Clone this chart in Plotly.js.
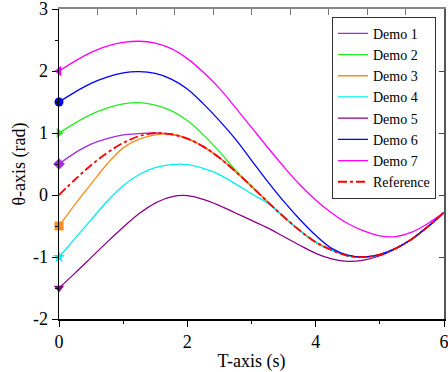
<!DOCTYPE html>
<html>
<head>
<meta charset="utf-8">
<script src="https://cdn.plot.ly/plotly-3.0.1.min.js"></script>
<style>
html,body{margin:0;padding:0;background:#fff;}
#chart{width:448px;height:372px;}
</style>
</head>
<body>
<div id="chart"></div>
<script>
// time samples (s)
var t = [0,0.25,0.5,0.75,1.0,1.25,1.5,1.75,2.0,2.25,2.5,2.75,3.0,3.25,3.5,3.75,4.0,4.25,4.5,4.75,5.0,5.25,5.5,5.75,6.0];

var reference = [0,0.25,0.48,0.68,0.84,0.95,1.0,0.98,0.91,0.78,0.6,0.38,0.14,-0.11,-0.35,-0.57,-0.76,-0.89,-0.98,-1.0,-0.96,-0.86,-0.71,-0.51,-0.28];
var demo1 = [0.5,0.68,0.82,0.91,0.97,0.99,1.0,0.98,0.91,0.78,0.6,0.38,0.14,-0.11,-0.35,-0.57,-0.76,-0.89,-0.98,-1.0,-0.96,-0.86,-0.71,-0.51,-0.28];
var demo2 = [1.0,1.16,1.3,1.4,1.47,1.49,1.45,1.36,1.2,0.97,0.7,0.4,0.14,-0.11,-0.35,-0.57,-0.76,-0.89,-0.98,-1.0,-0.96,-0.86,-0.71,-0.51,-0.28];
var demo3 = [-0.5,-0.15,0.18,0.5,0.76,0.9,0.97,0.98,0.91,0.78,0.6,0.38,0.14,-0.11,-0.35,-0.57,-0.76,-0.89,-0.98,-1.0,-0.96,-0.86,-0.71,-0.51,-0.28];
var demo4 = [-1.0,-0.7,-0.4,-0.1,0.15,0.33,0.44,0.49,0.49,0.43,0.33,0.18,0.02,-0.13,-0.35,-0.57,-0.76,-0.89,-0.98,-1.0,-0.96,-0.86,-0.71,-0.51,-0.28];
var demo5 = [-1.5,-1.26,-1.01,-0.76,-0.52,-0.3,-0.13,-0.03,-0.01,-0.07,-0.17,-0.29,-0.41,-0.53,-0.67,-0.81,-0.94,-1.03,-1.07,-1.05,-0.98,-0.86,-0.71,-0.51,-0.28];
var demo6 = [1.5,1.66,1.8,1.9,1.97,1.99,1.96,1.87,1.71,1.47,1.2,0.9,0.56,0.22,-0.1,-0.39,-0.65,-0.86,-0.97,-1.0,-0.96,-0.86,-0.71,-0.51,-0.28];
var demo7 = [2.0,2.16,2.3,2.4,2.46,2.48,2.45,2.36,2.2,1.98,1.72,1.41,1.09,0.77,0.46,0.17,-0.08,-0.29,-0.46,-0.58,-0.66,-0.67,-0.6,-0.46,-0.28];

var seriesNames = ["Demo 1","Demo 2","Demo 3","Demo 4","Demo 5","Demo 6","Demo 7","Reference"];
var xTickVals = [0,2,4,6];
var xTickLabels = ["0","2","4","6"];
var yTickVals = [-2,-1,0,1,2,3];
var yTickLabels = ["-2","-1","0","1","2","3"];

var demos = [demo1,demo2,demo3,demo4,demo5,demo6,demo7];
var colors = ["#A52AE0","#22EE22","#FF8C1A","#00F0F0","#8B008B","#0000FF","#FF00FF"];
var symbols = ["diamond","triangle-right","square","star","triangle-down","circle","triangle-left"];

var traces = [];
for (var i = 0; i < demos.length; i++) {
  traces.push({x: t, y: demos[i], type: 'scatter', mode: 'lines', name: seriesNames[i],
    line: {color: colors[i], width: 1.3, shape: 'spline'}});
}
traces.push({x: t, y: reference, type: 'scatter', mode: 'lines', name: seriesNames[7],
  line: {color: '#FF0000', width: 1.8, dash: 'dashdot', shape: 'spline'}});
for (var j = 0; j < demos.length; j++) {
  traces.push({x: [t[0]], y: [demos[j][0]], type: 'scatter', mode: 'markers', showlegend: false,
    xaxis: 'x2', yaxis: 'y2', cliponaxis: false,
    marker: {color: colors[j], symbol: symbols[j], size: 9}});
}

var fontFam = 'Liberation Serif';
var layout = {
  width: 448, height: 372,
  margin: {l: 59, r: 4, t: 9, b: 53, autoexpand: false},
  paper_bgcolor: '#fff', plot_bgcolor: '#fff',
  font: {family: fontFam, color: '#000', size: 17},
  showlegend: true,
  xaxis: {range: [0, 6], tickvals: xTickVals, ticktext: xTickLabels, ticks: 'outside', ticklen: 6, tickwidth: 1,
    tickcolor: '#000', showline: true, linecolor: '#000', linewidth: 1.5, showgrid: false, zeroline: false,
    ticklabeloverflow: 'allow', automargin: false,
    minor: {dtick: 1, ticks: 'outside', ticklen: 3, tickcolor: '#000', showgrid: false},
    tickfont: {size: 18, family: fontFam},
    title: {text: 'T-axis (s)', font: {size: 18, family: fontFam}, standoff: 4}},
  yaxis: {range: [-2, 3], tickvals: yTickVals, ticktext: yTickLabels, ticks: 'outside', ticklen: 6, tickwidth: 1,
    tickcolor: '#000', showline: true, linecolor: '#000', linewidth: 1.5, showgrid: false, zeroline: false,
    ticklabeloverflow: 'allow', automargin: false,
    minor: {dtick: 0.5, ticks: 'outside', ticklen: 3, tickcolor: '#000', showgrid: false},
    tickfont: {size: 18, family: fontFam},
    title: {text: 'θ-axis (rad)', font: {size: 18, family: fontFam}, standoff: 2}},
  xaxis2: {overlaying: 'x', side: 'top', range: [0, 6], dtick: 0.6, tick0: 0, ticks: 'inside', ticklen: 6,
    tickcolor: '#777', showticklabels: false, showline: true, linecolor: '#888', linewidth: 2,
    showgrid: false, zeroline: false, automargin: false},
  yaxis2: {overlaying: 'y', side: 'right', range: [-2, 3], dtick: 1, ticks: 'inside', ticklen: 5,
    tickcolor: '#444', showticklabels: false, showline: true, linecolor: '#555', linewidth: 1.5,
    showgrid: false, zeroline: false, automargin: false},
  legend: {x: 0.709, y: 0.975, xanchor: 'left', yanchor: 'top', bgcolor: '#fff', bordercolor: '#333',
    borderwidth: 1, font: {size: 14, family: fontFam}, tracegroupgap: 0, itemwidth: 30}
};

Plotly.newPlot('chart', traces, layout, {displayModeBar: false, staticPlot: true}).then(function () {
  var nodes = document.querySelectorAll('#chart text');
  for (var k = 0; k < nodes.length; k++) {
    nodes[k].style.setProperty('font-family', "'Liberation Serif', 'Times New Roman', serif", 'important');
    nodes[k].setAttribute('font-family', 'Liberation Serif');
  }
});
</script>
</body>
</html>
